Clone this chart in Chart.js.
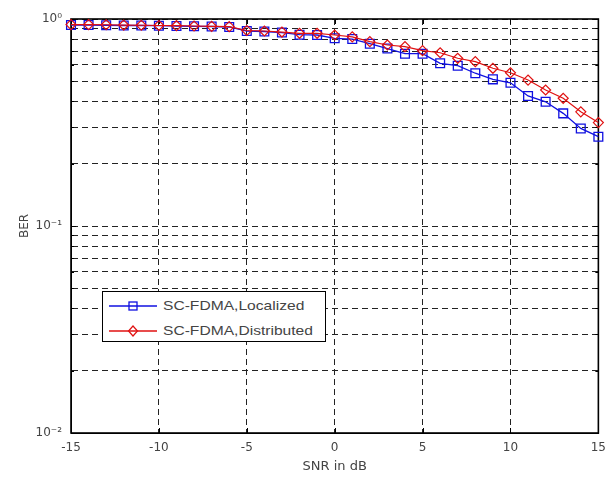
<!DOCTYPE html>
<html>
<head>
<meta charset="utf-8">
<script src="https://cdn.jsdelivr.net/npm/chart.js@4.4.0/dist/chart.umd.min.js"></script>
<style>
  html, body { margin: 0; padding: 0; background: #fff; }
  #wrap { position: relative; width: 614px; height: 477px; }
  #legend { position: absolute; left: 102px; top: 291px; width: 224px; height: 51px;
            box-sizing: border-box; border: 1px solid #000; background: #fff; }
  .row { position: absolute; left: 0; height: 14px; width: 100%; }
  .row svg { position: absolute; left: 6px; top: 1px; }
  .row span { position: absolute; left: 60px; top: -1px; font: 13px "Liberation Sans", Arial, sans-serif;
              color: #444; white-space: nowrap; transform: scaleX(1.2); transform-origin: left center; }
</style>
</head>
<body>
<div id="wrap">
  <canvas id="c" width="614" height="477"></canvas>
  <div id="legend"></div>
</div>
<script>
// ---- data ----
const snr = [-15,-14,-13,-12,-11,-10,-9,-8,-7,-6,-5,-4,-3,-2,-1,0,1,2,3,4,5,6,7,8,9,10,11,12,13,14,15];
const berLocalized = [0.935,0.935,0.933,0.930,0.930,0.928,0.925,0.922,0.920,0.915,0.875,0.870,0.860,0.840,0.837,
                      0.807,0.800,0.760,0.720,0.680,0.680,0.611,0.595,0.547,0.511,0.492,0.425,0.398,0.350,0.296,0.270];
const berDistributed = [0.940,0.940,0.938,0.935,0.933,0.930,0.928,0.925,0.922,0.918,0.880,0.875,0.865,0.853,0.853,
                        0.837,0.820,0.777,0.749,0.735,0.703,0.687,0.646,0.622,0.578,0.550,0.507,0.454,0.414,0.356,0.316];
const seriesNames = ['SC-FDMA,Localized', 'SC-FDMA,Distributed'];
const seriesColors = ['#1010e0', '#e01010'];
const xTicks = [-15, -10, -5, 0, 5, 10, 15];
const yDecades = [0.01, 0.1, 1];
const yTickLabels = ['10\u207B\u00B2', '10\u207B\u00B9', '10\u2070'];
const yMinorMultipliers = [2, 3, 4, 5, 6, 7, 8, 9];

const toPts = (ys) => snr.map((x, i) => ({ x: x, y: ys[i] }));

const textColor = '#444';

const frame = {
  id: 'frame',
  beforeDatasetsDraw(chart) {
    const { ctx, chartArea: a, scales } = chart;
    ctx.save();
    ctx.strokeStyle = '#000';
    ctx.lineWidth = 1;
    ctx.setLineDash([]);
    ctx.beginPath();
    // inward tick marks
    scales.y.ticks.forEach(t => {
      const py = Math.round(scales.y.getPixelForValue(t.value)) + 0.5;
      const isMajor = yDecades.some(d => Math.abs(d - t.value) < d * 1e-6);
      const len = isMajor ? 5 : 3;
      ctx.moveTo(a.left, py); ctx.lineTo(a.left + len, py);
      ctx.moveTo(a.right, py); ctx.lineTo(a.right - len, py);
    });
    scales.x.ticks.forEach(t => {
      const px = Math.round(scales.x.getPixelForValue(t.value)) + 0.5;
      ctx.moveTo(px, a.bottom); ctx.lineTo(px, a.bottom - 5);
      ctx.moveTo(px, a.top); ctx.lineTo(px, a.top + 5);
    });
    ctx.stroke();
    ctx.lineWidth = 1.6;
    ctx.strokeRect(a.left, a.top, a.right - a.left, a.bottom - a.top);
    ctx.restore();
  }
};

new Chart(document.getElementById('c'), {
  type: 'line',
  data: {
    datasets: [
      { label: seriesNames[0], data: toPts(berLocalized), borderColor: seriesColors[0],
        backgroundColor: 'rgba(0,0,0,0)', pointBackgroundColor: 'rgba(255,255,255,0)',
        pointBorderColor: seriesColors[0], pointStyle: 'rect', pointRadius: 6.2, pointBorderWidth: 1.3,
        borderWidth: 1.3, tension: 0, clip: false, order: 1 },
      { label: seriesNames[1], data: toPts(berDistributed), borderColor: seriesColors[1],
        backgroundColor: 'rgba(0,0,0,0)', pointBackgroundColor: 'rgba(255,255,255,0)',
        pointBorderColor: seriesColors[1], pointStyle: 'rectRot', pointRadius: 5, pointBorderWidth: 1.2,
        borderWidth: 1.2, tension: 0, clip: false, order: 0 }
    ]
  },
  options: {
    responsive: false,
    animation: false,
    devicePixelRatio: 1,
    layout: { padding: { left: 18, top: 19, right: 12, bottom: 3 } },
    plugins: { legend: { display: false }, tooltip: { enabled: false } },
    scales: {
      x: {
        type: 'linear', min: -15, max: 15,
        afterBuildTicks: (s) => { s.ticks = xTicks.map(v => ({ value: v })); },
        afterFit: (s) => { s.height = 41; },
        grid: { color: '#222', lineWidth: 1, drawTicks: false },
        border: { display: true, color: '#000', width: 1, dash: [6, 4] },
        ticks: { color: textColor, padding: 8, autoSkip: false, maxRotation: 0,
                 font: { family: 'DejaVu Sans', size: 12 } },
        title: { display: true, text: 'SNR in dB', color: textColor, padding: 0,
                 font: { family: 'DejaVu Sans', size: 13 } }
      },
      y: {
        type: 'logarithmic', min: 0.01, max: 1,
        afterBuildTicks: (s) => {
          const vals = [];
          yDecades.forEach((d, i) => {
            vals.push(d);
            if (i < yDecades.length - 1) yMinorMultipliers.forEach(m => vals.push(d * m));
          });
          s.ticks = vals.map(v => ({ value: v }));
        },
        afterFit: (s) => { s.width = 53; },
        grid: { color: '#222', lineWidth: 1, drawTicks: false },
        border: { display: true, color: '#000', width: 1, dash: [6, 4] },
        ticks: {
          color: textColor, padding: 9, autoSkip: false,
          font: { family: 'DejaVu Sans', size: 12 },
          callback: (value) => {
            const i = yDecades.findIndex(d => Math.abs(d - value) < d * 1e-6);
            return i >= 0 ? yTickLabels[i] : '';
          }
        },
        title: { display: true, text: 'BER', color: textColor, padding: 0,
                 font: { family: 'DejaVu Sans', size: 12 } }
      }
    }
  },
  plugins: [frame]
});

// legend overlay built from the series arrays
const lg = document.getElementById('legend');
seriesNames.forEach((name, i) => {
  const row = document.createElement('div');
  row.className = 'row';
  row.style.top = (i === 0 ? 7 : 32) + 'px';
  const c = seriesColors[i];
  const marker = i === 0
    ? `<rect x="20" y="2" width="8" height="8" fill="none" stroke="${c}" stroke-width="1.3"/>`
    : `<polygon points="24,1 28.5,6 24,11 19.5,6" fill="none" stroke="${c}" stroke-width="1.2"/>`;
  row.innerHTML = `<svg width="48" height="12"><line x1="0" y1="6" x2="48" y2="6" stroke="${c}" stroke-width="1.3"/>${marker}</svg><span>${name}</span>`;
  lg.appendChild(row);
});
</script>
</body>
</html>
